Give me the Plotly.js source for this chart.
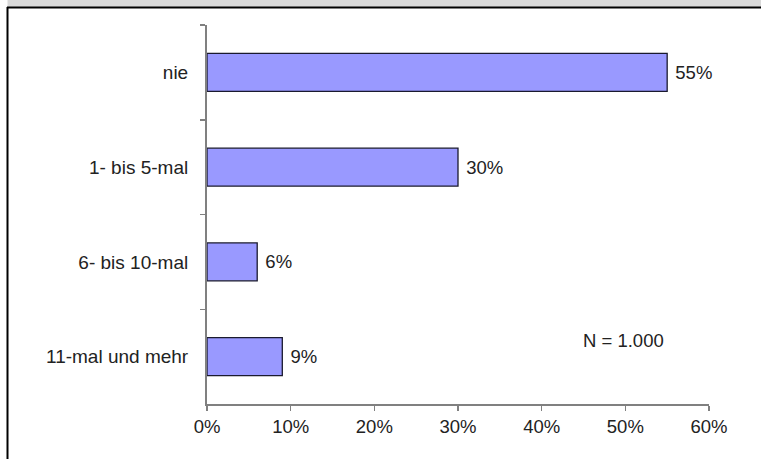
<!DOCTYPE html>
<html>
<head>
<meta charset="utf-8">
<script src="https://cdn.plot.ly/plotly-3.0.1.min.js"></script>
<style>html,body{margin:0;padding:0;background:#fff;overflow:hidden;}#chart{width:761px;height:459px;}</style>
</head>
<body>
<div id="chart"></div>
<script>
var categories = ["nie", "1- bis 5-mal", "6- bis 10-mal", "11-mal und mehr"];
var values = [55, 30, 6, 9];
var xTickValues = [0, 10, 20, 30, 40, 50, 60];
var xTickLabels = ["0%", "10%", "20%", "30%", "40%", "50%", "60%"];
var noteText = "N = 1.000";

var L = 207, R = 709, T = 25, B = 404;
function px(x) { return (x - L) / (R - L); }
function py(y) { return (B - y) / (B - T); }

var trace = {
  type: "bar",
  orientation: "h",
  x: values,
  y: categories,
  width: 0.4,
  marker: { color: "#9999ff", line: { color: "#1a1a2e", width: 1.3 } },
  text: values.map(function (v) { return "\u00a0" + v + "%"; }),
  textposition: "outside",
  cliponaxis: false,
  textfont: { family: "Liberation Sans, Arial, sans-serif", size: 18.5, color: "#222" },
  hoverinfo: "none"
};

var layout = {
  width: 761,
  height: 459,
  margin: { l: L, r: 761 - R, t: T, b: 459 - B, pad: 0 },
  paper_bgcolor: "#ffffff",
  plot_bgcolor: "#ffffff",
  showlegend: false,
  font: { family: "Liberation Sans, Arial, sans-serif", size: 18.5, color: "#222" },
  xaxis: {
    range: [0, 60],
    tickvals: xTickValues,
    ticktext: xTickLabels,
    ticks: "outside",
    ticklen: 5,
    tickwidth: 1.5,
    tickcolor: "#808080",
    showline: true,
    linecolor: "#808080",
    linewidth: 2,
    showgrid: false,
    zeroline: false,
    tickfont: { size: 18.5, color: "#222" }
  },
  yaxis: {
    type: "category",
    categoryorder: "array",
    categoryarray: categories,
    range: [3.5, -0.5],
    ticks: "outside",
    tickson: "boundaries",
    ticklen: 5,
    tickwidth: 1.5,
    tickcolor: "#808080",
    ticklabelstandoff: 13,
    showline: true,
    linecolor: "#808080",
    linewidth: 2,
    showgrid: false,
    zeroline: false,
    tickfont: { size: 19, color: "#222" }
  },
  annotations: [{
    xref: "paper", yref: "paper",
    x: px(623), y: py(340),
    text: noteText, showarrow: false,
    xanchor: "center", yanchor: "middle",
    font: { size: 18.5, color: "#222" }
  }],
  shapes: [
    { type: "rect", xref: "paper", yref: "paper", x0: px(8), x1: px(770), y0: py(-5), y1: py(7), fillcolor: "#d9d9d9", opacity: 1, line: { color: "#d9d9d9", width: 1 }, layer: "above" },
    { type: "line", xref: "paper", yref: "paper", x0: px(7), x1: px(770), y0: py(7.5), y1: py(7.5), line: { color: "#000", width: 2 } },
    { type: "line", xref: "paper", yref: "paper", x0: px(7.5), x1: px(7.5), y0: py(7), y1: py(470), line: { color: "#000", width: 2 } }
  ]
};

Plotly.newPlot("chart", [trace], layout, { displayModeBar: false, staticPlot: true });
</script>
</body>
</html>
